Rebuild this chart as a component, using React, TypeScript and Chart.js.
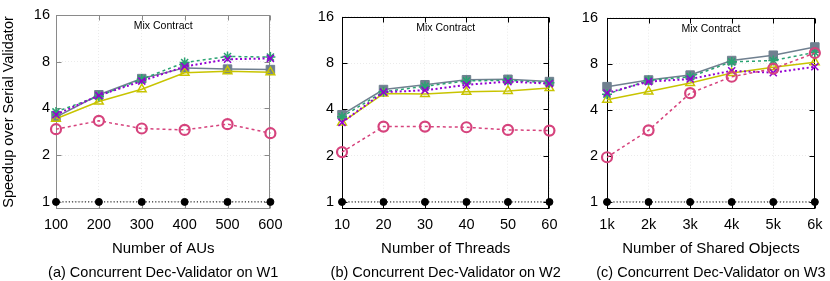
import React, { useEffect, useRef } from 'react';
import { Chart, registerables } from 'chart.js';
Chart.register(...registerables);

const FONT = '"Liberation Sans", Arial, Helvetica, sans-serif';

// ---- data ----
const labelsA = ['100', '200', '300', '400', '500', '600'];
const labelsB = ['10', '20', '30', '40', '50', '60'];
const labelsC = ['1k', '2k', '3k', '4k', '5k', '6k'];
const yTickValues = [1, 2, 4, 8, 16];

const serialA = [1, 1, 1, 1, 1, 1];
const pinkA = [2.94, 3.33, 2.97, 2.91, 3.17, 2.77];
const purpleA = [3.65, 4.85, 6.0, 7.45, 8.3, 8.4];
const greenA = [3.8, 4.8, 6.18, 7.9, 8.65, 8.57];
const yellowA = [3.43, 4.43, 5.32, 6.8, 6.95, 6.85];
const grayA = [3.52, 4.9, 6.23, 7.3, 7.17, 7.12];

const serialB = [1, 1, 1, 1, 1, 1];
const pinkB = [2.11, 3.09, 3.09, 3.06, 2.94, 2.91];
const purpleB = [3.29, 5.17, 5.32, 5.77, 6.06, 5.88];
const greenB = [3.58, 5.2, 5.65, 6.12, 6.18, 5.95];
const yellowB = [3.29, 5.06, 5.04, 5.2, 5.27, 5.5];
const grayB = [3.69, 5.38, 5.78, 6.23, 6.27, 6.06];

const serialC = [1, 1, 1, 1, 1, 1];
const pinkC = [1.96, 2.94, 5.14, 6.58, 7.43, 9.4];
const purpleC = [5.15, 6.12, 6.36, 7.2, 7.0, 7.65];
const greenC = [5.06, 6.23, 6.58, 8.23, 8.4, 9.5];
const yellowC = [4.66, 5.27, 6.0, 6.96, 7.6, 8.2];
const grayC = [5.67, 6.27, 6.75, 8.4, 9.1, 10.3];

const PINK = '#d6437d';
const PURPLE = '#9400d3';
const GREEN = '#2aa372';
const YELLOW = '#c8c400';
const GRAY = '#708090';

type PanelDef = {
  left: number;
  width: number;
  axisWidth: number;
  rightPad: number;
  tickPad: number;
  frame: string;
  yTitle: string | null;
  xTitle: string;
  caption: string;
  labels: string[];
  serial: number[];
  pink: number[];
  purple: number[];
  green: number[];
  yellow: number[];
  gray: number[];
};

const panels: PanelDef[] = [
  { left: 0, width: 290, axisWidth: 56, rightPad: 15, tickPad: 6, frame: '#8a8a8a', yTitle: 'Speedup over Serial Validator', xTitle: 'Number of AUs', caption: '(a) Concurrent Dec-Validator on W1', labels: labelsA, serial: serialA, pink: pinkA, purple: purpleA, green: greenA, yellow: yellowA, gray: grayA },
  { left: 290, width: 275, axisWidth: 52, rightPad: 13, tickPad: 8, frame: '#000', yTitle: null, xTitle: 'Number of Threads', caption: '(b) Concurrent Dec-Validator on W2', labels: labelsB, serial: serialB, pink: pinkB, purple: purpleB, green: greenB, yellow: yellowB, gray: grayB },
  { left: 565, width: 265, axisWidth: 42, rightPad: 13, tickPad: 9, frame: '#000', yTitle: null, xTitle: 'Number of Shared Objects', caption: '(c) Concurrent Dec-Validator on W3', labels: labelsC, serial: serialC, pink: pinkC, purple: purpleC, green: greenC, yellow: yellowC, gray: grayC },
];

const decor = {
  id: 'decor',
  beforeDatasetsDraw(chart: any, _args: any, opts: any) {
    const { ctx, chartArea } = chart;
    const { left, right, top, bottom } = chartArea;
    const xs = chart.scales.x;
    const ys = chart.scales.y;
    ctx.save();
    ctx.strokeStyle = opts.color;
    ctx.lineWidth = 1;
    const line = (x1: number, y1: number, x2: number, y2: number) => {
      ctx.beginPath();
      ctx.moveTo(x1, y1);
      ctx.lineTo(x2, y2);
      ctx.stroke();
    };
    const L = Math.round(left) + 0.5;
    const R = Math.round(right) - 0.5;
    const T = Math.round(top) + 0.5;
    const B = Math.round(bottom) - 0.5;
    ctx.strokeRect(L, T, R - L, B - T);
    yTickValues.forEach((v) => {
      const py = Math.round(ys.getPixelForValue(v)) + 0.5;
      line(L, py, L + 5, py);
      line(R - 5, py, R, py);
    });
    xs.ticks.forEach((_t: any, i: number) => {
      const px = Math.round(xs.getPixelForTick(i)) + 0.5;
      line(px, B, px, B - 5);
      line(px, T, px, T + 5);
    });
    ctx.fillStyle = '#000';
    ctx.textAlign = 'center';
    ctx.textBaseline = 'middle';
    ctx.font = `10.5px ${FONT}`;
    ctx.fillText('Mix Contract', (left + right) / 2, top + 11);
    ctx.font = `14.5px ${FONT}`;
    ctx.fillText(opts.caption, (left + right) / 2, 273);
    ctx.restore();
  },
};

function PanelChart({ p }: { p: PanelDef }) {
  const ref = useRef<HTMLCanvasElement | null>(null);
  useEffect(() => {
    if (!ref.current) return;
    const mk = (label: string, data: number[], color: string, dash: number[], width: number, style: string, radius: number, fill: boolean, bw: number) => ({
      label,
      data,
      borderColor: color,
      backgroundColor: color,
      borderDash: dash,
      borderWidth: width,
      pointStyle: style,
      pointRadius: radius,
      pointBorderWidth: bw,
      pointBorderColor: color,
      pointBackgroundColor: fill ? color : 'rgba(255,255,255,0)',
      tension: 0,
      fill: false,
      clip: false,
    });
    const chart = new Chart(ref.current, {
      type: 'line',
      data: {
        labels: p.labels,
        datasets: [
          mk('pink', p.pink, PINK, [3, 3], 1.5, 'circle', 5, false, 2.2),
          mk('purple', p.purple, PURPLE, [2, 2.5], 2, 'crossRot', 5, false, 1.5),
          mk('green', p.green, GREEN, [3, 3], 1.5, 'star', 5, false, 1.5),
          mk('yellow', p.yellow, YELLOW, [], 1.5, 'triangle', 5, false, 1.5),
          mk('gray', p.gray, GRAY, [], 1.5, 'rect', 6, true, 1),
          mk('serial', p.serial, '#000', [1.2, 2], 1, 'circle', 3.5, true, 1),
        ] as any,
      },
      options: {
        animation: false,
        responsive: false,
        events: [],
        layout: { padding: { left: 0, right: p.rightPad, top: 15, bottom: 0 } },
        plugins: {
          legend: { display: false },
          tooltip: { enabled: false },
          decor: { color: p.frame, caption: p.caption },
        } as any,
        scales: {
          x: {
            type: 'category',
            offset: false,
            grid: { color: '#ebebeb', lineWidth: 1, drawTicks: false, offset: false },
            border: { display: false, dash: [1, 2] },
            ticks: { color: '#000', font: { family: FONT, size: 14.5 }, padding: 7.5, autoSkip: false, maxRotation: 0 },
            title: {
              display: true,
              text: p.xTitle,
              color: '#000',
              font: { family: FONT, size: 15 },
              padding: { top: 0, bottom: 23 },
            },
            afterFit: (s: any) => {
              s.height = 72;
            },
          } as any,
          y: {
            type: 'logarithmic',
            min: 0.9,
            max: 16,
            grid: { color: '#ebebeb', lineWidth: 1, drawTicks: false },
            border: { display: false, dash: [1, 2] },
            afterBuildTicks: (s: any) => {
              s.ticks = yTickValues.map((v) => ({ value: v }));
            },
            ticks: {
              color: '#000',
              font: { family: FONT, size: 14.5 },
              padding: p.tickPad,
              autoSkip: false,
              callback: (v: any) => String(v),
            },
            title: {
              display: !!p.yTitle,
              text: p.yTitle || '',
              color: '#000',
              font: { family: FONT, size: 14.5 },
              padding: { top: 0, bottom: 0 },
            },
            afterFit: (s: any) => {
              s.width = p.axisWidth;
            },
          } as any,
        },
      },
      plugins: [decor as any],
    });
    return () => chart.destroy();
  }, [p]);
  return (
    <canvas
      ref={ref}
      width={p.width}
      height={281}
      style={{ position: 'absolute', left: p.left, top: 0, width: p.width, height: 281 }}
    />
  );
}

export default function App() {
  useEffect(() => {
    document.body.style.margin = '0';
  }, []);
  return (
    <div style={{ position: 'relative', width: 830, height: 281, background: '#fff', overflow: 'hidden' }}>
      {panels.map((p, i) => (
        <PanelChart key={i} p={p} />
      ))}
    </div>
  );
}
